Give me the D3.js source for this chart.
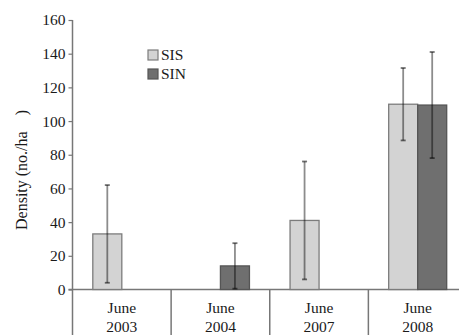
<!DOCTYPE html>
<html>
<head>
<meta charset="utf-8">
<script src="https://cdn.jsdelivr.net/npm/d3@7/dist/d3.min.js"></script>
<style>
  html, body { margin: 0; padding: 0; background: white; }
  #chart { width: 459px; height: 335px; }
  text { font-family: "Liberation Serif", "DejaVu Serif", serif; }
</style>
</head>
<body>
<div id="chart"></div>
<script>
// data
const categories = ["June 2003", "June 2004", "June 2007", "June 2008"];
const seriesNames = ["SIS", "SIN"];
const sisValues = [33, null, 41, 110];
const sisErrors = [29, null, 35, 21.5];
const sinValues = [null, 14, null, 109.5];
const sinErrors = [null, 13.5, null, 31.5];
const yTicks = [0, 20, 40, 60, 80, 100, 120, 140, 160];

const colors = { SIS: "#d3d3d3", SIN: "#6f6f6f" };
const strokes = { SIS: "#7c7c7c", SIN: "#555" };

const W = 459, H = 335;
const plotLeft = 72.5, plotRight = 467, plotTop = 20, plotBottom = 289.5;

const svg = d3.select("#chart").append("svg")
    .attr("width", W).attr("height", H);

const x = d3.scaleBand().domain(categories).range([plotLeft, plotRight]).paddingInner(0).paddingOuter(0);
const xs = d3.scaleBand().domain(seriesNames).range([0, x.bandwidth()]).paddingInner(0).paddingOuter(0.7);
const y = d3.scaleLinear().domain([0, 160]).range([plotBottom, plotTop]);

// y axis
const yAxis = svg.append("g")
    .attr("transform", `translate(${plotLeft},0)`)
    .call(d3.axisLeft(y).tickValues(yTicks).tickSize(4).tickPadding(3));
yAxis.attr("font-family", null).attr("font-size", null);
yAxis.select(".domain").attr("stroke", "#777").attr("stroke-width", 1.5)
    .attr("d", `M0,${y(160)}V${H}`);
yAxis.selectAll(".tick line").attr("stroke", "#777").attr("stroke-width", 1.2);
yAxis.selectAll(".tick text").style("font-size", "15.5px").attr("fill", "#1a1a1a");

// x baseline and category separators
svg.append("line")
    .attr("x1", plotLeft - 4).attr("x2", W)
    .attr("y1", y(0)).attr("y2", y(0))
    .attr("stroke", "#777").attr("stroke-width", 1.5);

svg.selectAll(".sep").data(categories.slice(1)).enter().append("line")
    .attr("class", "sep")
    .attr("x1", d => x(d)).attr("x2", d => x(d))
    .attr("y1", y(0)).attr("y2", H)
    .attr("stroke", "#777").attr("stroke-width", 1.5);

// category labels (two lines)
const lab = svg.selectAll(".cat").data(categories).enter().append("text")
    .attr("class", "cat")
    .attr("text-anchor", "middle")
    .style("font-size", "15.5px").attr("fill", "#1a1a1a");
lab.append("tspan")
    .attr("x", d => x(d) + x.bandwidth() / 2).attr("y", 313)
    .text(d => d.split(" ")[0]);
lab.append("tspan")
    .attr("x", d => x(d) + x.bandwidth() / 2).attr("y", 332)
    .text(d => d.split(" ")[1]);

// bars
const bars = [];
categories.forEach((c, i) => {
    if (sisValues[i] != null) bars.push({ cat: c, s: "SIS", v: sisValues[i], e: sisErrors[i] });
    if (sinValues[i] != null) bars.push({ cat: c, s: "SIN", v: sinValues[i], e: sinErrors[i] });
});

svg.selectAll(".bar").data(bars).enter().append("rect")
    .attr("class", "bar")
    .attr("x", d => x(d.cat) + xs(d.s))
    .attr("y", d => y(d.v))
    .attr("width", xs.bandwidth())
    .attr("height", d => y(0) - y(d.v))
    .attr("fill", d => colors[d.s])
    .attr("stroke", d => strokes[d.s])
    .attr("stroke-width", 1.3);

// error bars
const err = svg.selectAll(".err").data(bars).enter().append("g").attr("class", "err")
    .attr("transform", d => `translate(${x(d.cat) + xs(d.s) + xs.bandwidth() / 2},0)`);
err.append("line")
    .attr("y1", d => y(d.v + d.e)).attr("y2", d => y(Math.max(0, d.v - d.e)))
    .attr("stroke", "rgba(0,0,0,0.45)").attr("stroke-width", 1.8);
err.append("line").attr("x1", -2.5).attr("x2", 2.5)
    .attr("y1", d => y(d.v + d.e)).attr("y2", d => y(d.v + d.e))
    .attr("stroke", "rgba(0,0,0,0.55)").attr("stroke-width", 1.8);
err.append("line").attr("x1", -2.5).attr("x2", 2.5)
    .attr("y1", d => y(Math.max(0, d.v - d.e))).attr("y2", d => y(Math.max(0, d.v - d.e)))
    .attr("stroke", "rgba(0,0,0,0.55)").attr("stroke-width", 1.8);

// y label
svg.append("text")
    .attr("transform", "translate(27,170) rotate(-90)")
    .attr("text-anchor", "middle")
    .attr("xml:space", "preserve")
    .style("white-space", "pre")
    .style("font-size", "16px").attr("fill", "#1a1a1a")
    .text("Density (no./ha    )");

// legend
const leg = svg.selectAll(".leg").data(seriesNames).enter().append("g")
    .attr("class", "leg")
    .attr("transform", (d, i) => `translate(148,${50 + i * 19})`);
leg.append("rect")
    .attr("width", 10).attr("height", 10)
    .attr("fill", d => colors[d]).attr("stroke", d => strokes[d]).attr("stroke-width", 1.2);
leg.append("text")
    .attr("x", 13).attr("y", 10)
    .style("font-size", "15.5px").attr("fill", "#1a1a1a")
    .text(d => d);
</script>
</body>
</html>
